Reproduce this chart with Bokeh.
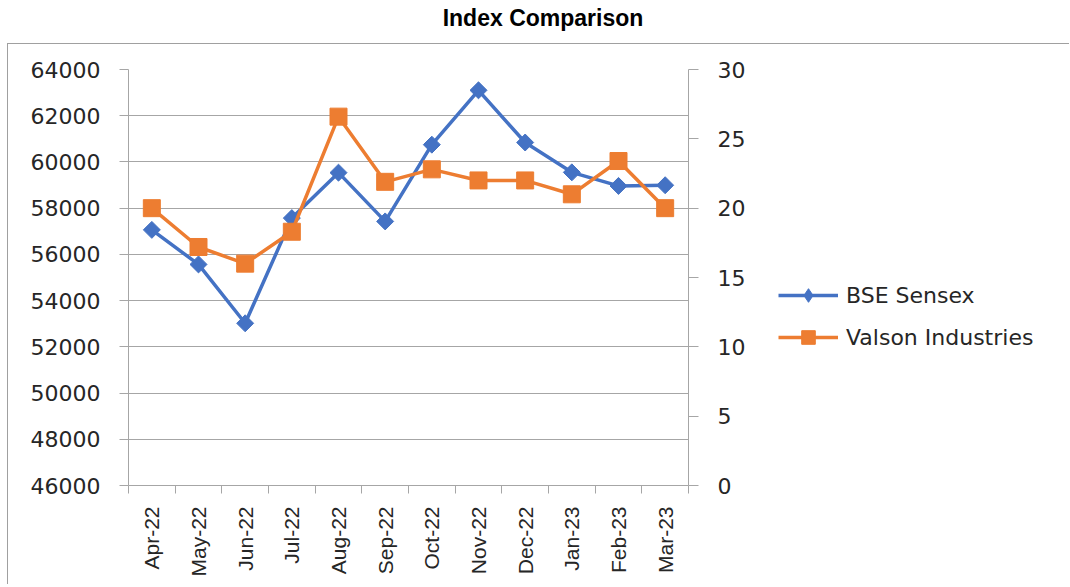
import math
from bokeh.plotting import figure
from bokeh.models import (Range1d, LinearAxis, FixedTicker, Legend, LegendItem,
                          NumeralTickFormatter, Div)
from bokeh.layouts import column, row
from bokeh.embed import file_html
from bokeh.resources import INLINE

# ---- data ----
months = ["Apr-22", "May-22", "Jun-22", "Jul-22", "Aug-22", "Sep-22",
          "Oct-22", "Nov-22", "Dec-22", "Jan-23", "Feb-23", "Mar-23"]
bse_sensex = [57061, 55566, 53019, 57570, 59537, 57427,
              60747, 63100, 60841, 59550, 58962, 58992]
valson = [20.0, 17.2, 16.0, 18.3, 26.6, 21.9,
          22.8, 22.0, 22.0, 21.0, 23.4, 20.0]
left_ticks = [46000, 48000, 50000, 52000, 54000, 56000, 58000, 60000, 62000, 64000]
right_ticks = [0, 5, 10, 15, 20, 25, 30]
series_names = ["BSE Sensex", "Valson Industries"]

BLUE = "#4472C4"
ORANGE = "#ED7D31"
AXIS = "#a6a6a6"
TXT = "#262626"

xs = list(range(len(months)))
bounds = [i - 0.5 for i in range(len(months) + 1)]

# ---- title ----
title = Div(text="Index Comparison", width=1062, height=43, margin=0,
            styles={"text-align": "center", "font-family": "Liberation Sans",
                    "font-weight": "bold", "font-size": "23px", "color": "#000000",
                    "padding-left": "24px", "padding-top": "2px",
                    "box-sizing": "border-box"})

# ---- main chart ----
p = figure(width=760, height=540, toolbar_location=None, output_backend="svg",
           x_range=Range1d(-0.5, len(months) - 0.5),
           y_range=Range1d(left_ticks[0], left_ticks[-1]),
           min_border_left=120, min_border_right=80,
           min_border_top=25, min_border_bottom=99)
p.outline_line_color = None
p.extra_y_ranges = {"right": Range1d(right_ticks[0], right_ticks[-1])}

# x axis: labels at centers, ticks at boundaries
xa = p.xaxis[0]
xa.ticker = FixedTicker(ticks=xs, minor_ticks=bounds)
xa.major_label_overrides = {i: m for i, m in enumerate(months)}
xa.major_tick_in = 0
xa.major_tick_out = 0
xa.minor_tick_in = 0
xa.minor_tick_out = 8
xa.minor_tick_line_color = AXIS
xa.axis_line_color = AXIS
xa.major_label_orientation = math.pi / 2
xa.major_label_standoff = 13
xa.major_label_text_font = "Liberation Sans"
xa.major_label_text_font_size = "21px"
xa.major_label_text_color = TXT

# left axis
ya = p.yaxis[0]
ya.ticker = FixedTicker(ticks=left_ticks)
ya.formatter = NumeralTickFormatter(format="0")
ya.major_tick_in = 0
ya.major_tick_out = 9
ya.major_tick_line_color = AXIS
ya.minor_tick_line_color = None
ya.axis_line_color = AXIS
ya.major_label_standoff = 19
ya.major_label_text_font = "DejaVu Sans"
ya.major_label_text_font_size = "22px"
ya.major_label_text_color = TXT

# right axis
ra = LinearAxis(y_range_name="right", ticker=FixedTicker(ticks=right_ticks))
ra.major_tick_in = 0
ra.major_tick_out = 10
ra.major_tick_line_color = AXIS
ra.minor_tick_line_color = None
ra.axis_line_color = AXIS
ra.major_label_standoff = 19
ra.major_label_text_font = "DejaVu Sans"
ra.major_label_text_font_size = "22px"
ra.major_label_text_color = TXT
p.add_layout(ra, "right")

p.xgrid.visible = False
p.ygrid.ticker = FixedTicker(ticks=left_ticks)
p.ygrid.grid_line_color = AXIS
p.ygrid.grid_line_width = 1

p.line(xs, bse_sensex, color=BLUE, line_width=3.5)
p.scatter(xs, bse_sensex, marker="square", angle=math.pi / 4, size=12, color=BLUE)
p.line(xs, valson, color=ORANGE, line_width=3.5, y_range_name="right")
p.scatter(xs, valson, marker="square", size=17, color=ORANGE, y_range_name="right")

# ---- legend panel (series drawn out of view; only their legend swatches show) ----
lg = figure(width=301, height=540, toolbar_location=None, output_backend="svg",
            x_range=Range1d(-1, -0.5), y_range=Range1d(-1, -0.5),
            x_axis_location=None, y_axis_location=None,
            min_border_left=0, min_border_right=0,
            min_border_top=25, min_border_bottom=99)
lg.outline_line_color = None
lg.grid.visible = False
dl1 = lg.line(xs, bse_sensex, color=BLUE, line_width=3.5)
ds1 = lg.scatter(xs, bse_sensex, marker="diamond", color=BLUE)
dl2 = lg.line(xs, valson, color=ORANGE, line_width=3.5)
ds2 = lg.scatter(xs, valson, marker="square", color=ORANGE)

legend = Legend(items=[LegendItem(label=series_names[0], renderers=[dl1, ds1]),
                       LegendItem(label=series_names[1], renderers=[dl2, ds2])],
                location=(10, 131), glyph_width=60, glyph_height=34,
                label_height=34, spacing=8, padding=0, margin=0,
                border_line_color=None, background_fill_alpha=0,
                label_standoff=8, label_text_font="DejaVu Sans",
                label_text_font_size="22px", label_text_color=TXT)
lg.add_layout(legend)

box = row(p, lg, styles={"border-top": "1px solid #a0a0a0",
                         "border-left": "1px solid #a0a0a0",
                         "margin-left": "7px"})
layout = column(title, box)
open("out.html", "w").write(file_html(layout, INLINE))
